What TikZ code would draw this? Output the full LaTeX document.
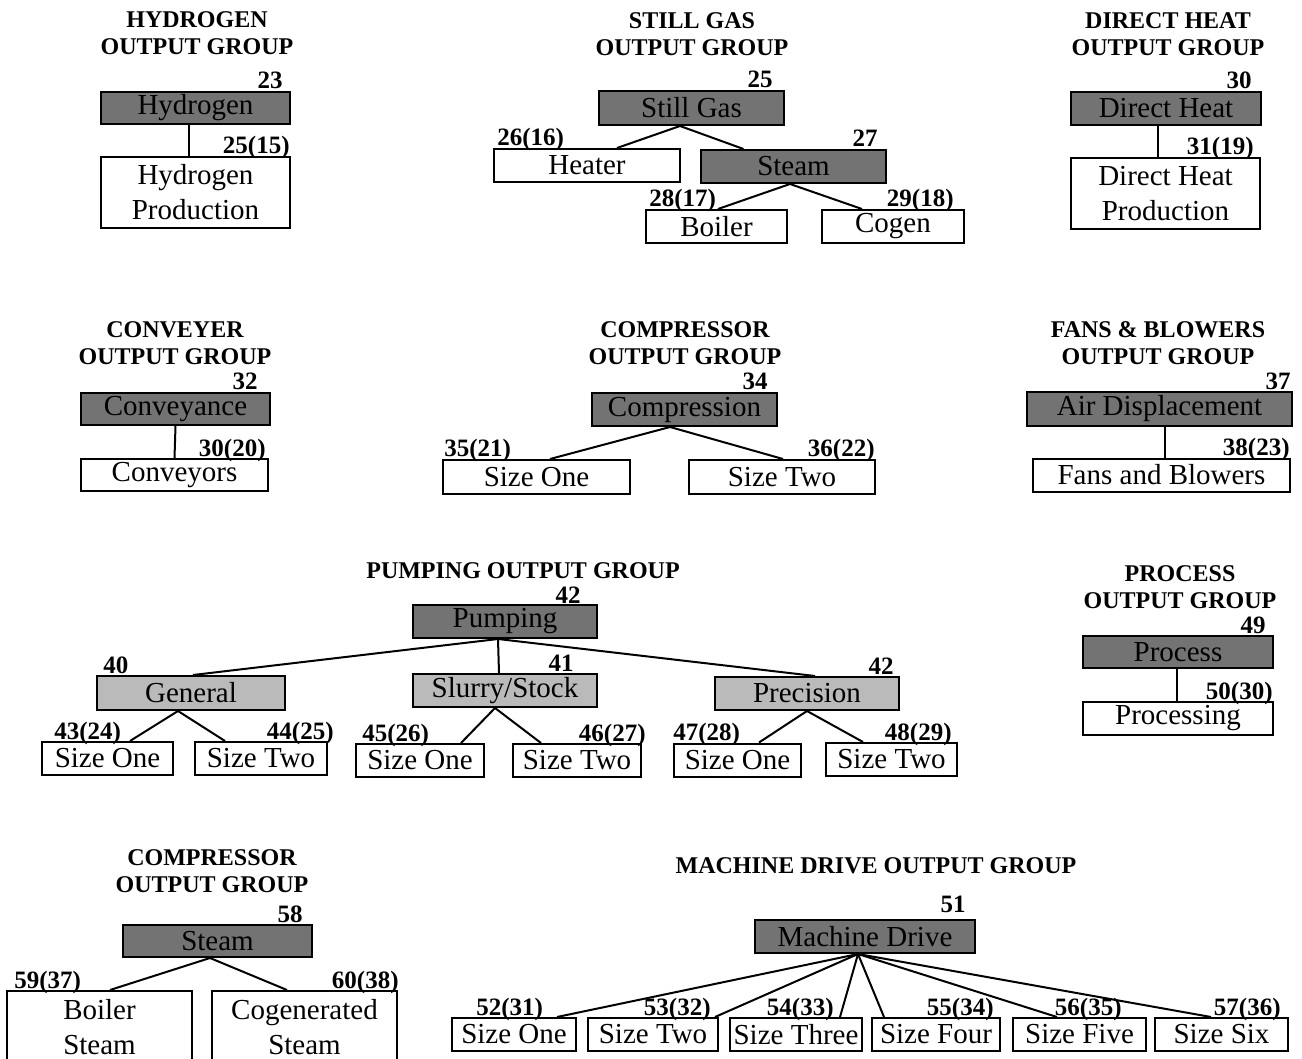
\documentclass[tikz,border=0pt]{standalone}
\usepackage{fontspec}
\setmainfont{Liberation Serif}
\usetikzlibrary{positioning}
\tikzset{
  box/.style={draw, line width=1pt, inner sep=0pt, align=center,
    minimum height=16.5pt, font=\fontsize{14.5}{17.5}\selectfont},
  darkbox/.style={box, fill=black!55},
  lightbox/.style={box, fill=black!27},
  whitebox/.style={box, fill=white},
  num/.style={inner sep=0pt, font=\fontsize{12.5}{14}\selectfont\bfseries},
  numr/.style={num, anchor=base east},
  numl/.style={num, anchor=base west},
  head/.style={inner sep=0pt, align=center, font=\fontsize{12}{13.5}\selectfont\bfseries},
  link/.style={line width=1pt},
}

\begin{document}
\begin{tikzpicture}[x=0.5pt,y=-0.5pt]
  \useasboundingbox (0,0) rectangle (1302,1059);

  % hydrogen
  \node[head] (hyhead) at (197,33.5) {HYDROGEN\\OUTPUT GROUP};
  \node[darkbox, minimum width=94.5pt, minimum height=16pt] (h0) at (195.5,108) {Hydrogen};
  \node[whitebox, minimum width=94.5pt, minimum height=35.5pt] (h1) at (195.5,192.5) {Hydrogen\\Production};
  \draw[link] ([xshift=-3.5pt]h0.south) -- ([xshift=-3.5pt]h1.north);
  \node[numr] (h0n) at ([xshift=-4pt,yshift=1pt]h0.north east) {23};
  \node[numr] (h1n) at ([xshift=-0.5pt,yshift=1pt]h1.north east) {25(15)};

  % still gas
  \node[head] (sghead) at (692,34.5) {STILL GAS\\OUTPUT GROUP};
  \node[darkbox, minimum width=92.5pt, minimum height=17pt] (s0) at (691.5,108) {Still Gas};
  \node[whitebox, minimum width=93pt] (s1) at (587,165.5) {Heater};
  \node[darkbox, minimum width=92.5pt] (s2) at (793.5,166.5) {Steam};
  \node[whitebox, minimum width=70.5pt] (s3) at (716.5,226.5) {Boiler};
  \node[whitebox, minimum width=71pt] (s4) at (893,226.5) {Cogen};
  \draw[link] ([xshift=-5.75pt]s0.south) -- ([xshift=15pt]s1.north);
  \draw[link] ([xshift=-5.75pt]s0.south) -- ([xshift=-25pt]s2.north);
  \draw[link] ([xshift=-1.75pt]s2.south) -- ([xshift=0.75pt]s3.north);
  \draw[link] ([xshift=-1.75pt]s2.south) -- ([xshift=-15.5pt]s4.north);
  \node[numr] (s0n) at ([xshift=-6pt,yshift=1pt]s0.north east) {25};
  \node[numl] (s1n) at ([xshift=2pt,yshift=1pt]s1.north west) {26(16)};
  \node[numr] (s2n) at ([xshift=-4.5pt,yshift=1pt]s2.north east) {27};
  \node[numl] (s3n) at ([xshift=2pt,yshift=1pt]s3.north west) {28(17)};
  \node[numr] (s4n) at ([xshift=-5.5pt,yshift=1pt]s4.north east) {29(18)};

  % direct heat
  \node[head] (dhhead) at (1168,34.5) {DIRECT HEAT\\OUTPUT GROUP};
  \node[darkbox, minimum width=95pt] (d0) at (1166,108.5) {Direct Heat};
  \node[whitebox, minimum width=94.5pt, minimum height=35.5pt] (d1) at (1165.5,193.5) {Direct Heat\\Production};
  \draw[link] ([xshift=-4pt]d0.south) -- ([xshift=-3.75pt]d1.north);
  \node[numr] (d0n) at ([xshift=-5pt,yshift=1pt]d0.north east) {30};
  \node[numr] (d1n) at ([xshift=-3.5pt,yshift=1pt]d1.north east) {31(19)};

  % conveyer
  \node[head] (cvhead) at (175,343) {CONVEYER\\OUTPUT GROUP};
  \node[darkbox, minimum width=94.5pt, minimum height=16pt] (c0) at (175.5,409) {Conveyance};
  \node[whitebox, minimum width=93.5pt, minimum height=16pt] (c1) at (174.5,475) {Conveyors};
  \draw[link] (c0.south) -- (c1.north);
  \node[numr] (c0n) at ([xshift=-6.5pt,yshift=1pt]c0.north east) {32};
  \node[numr] (c1n) at ([xshift=-1.5pt,yshift=1pt]c1.north east) {30(20)};

  % compressor
  \node[head] (cphead) at (685,343) {COMPRESSOR\\OUTPUT GROUP};
  \node[darkbox, minimum width=92.5pt] (p0) at (684.5,409.5) {Compression};
  \node[whitebox, minimum width=93.5pt, minimum height=17pt] (p1) at (536.5,477) {Size One};
  \node[whitebox, minimum width=93pt, minimum height=17pt] (p2) at (782,477) {Size Two};
  \draw[link] ([xshift=-7.25pt]p0.south) -- ([xshift=6.75pt]p1.north);
  \draw[link] ([xshift=-7.25pt]p0.south) -- ([xshift=0.5pt]p2.north);
  \node[numr] (p0n) at ([xshift=-5pt,yshift=1pt]p0.north east) {34};
  \node[numl] (p1n) at ([xshift=1pt,yshift=1pt]p1.north west) {35(21)};
  \node[numr] (p2n) at ([xshift=-0.5pt,yshift=1pt]p2.north east) {36(22)};

  % fans and blowers
  \node[head] (fbhead) at (1158,343) {FANS \& BLOWERS\\OUTPUT GROUP};
  \node[darkbox, minimum width=132.5pt] (f0) at (1159.5,409) {Air Displacement};
  \node[whitebox, minimum width=128.5pt] (f1) at (1161.5,475) {Fans and Blowers};
  \draw[link] ([xshift=2.75pt]f0.south) -- ([xshift=1.75pt]f1.north);
  \node[numr] (f0n) at ([xshift=-1pt,yshift=1pt]f0.north east) {37};
  \node[numr] (f1n) at ([xshift=-0.5pt,yshift=1pt]f1.north east) {38(23)};

  % pumping
  \node[head] (puhead) at (523,571) {PUMPING OUTPUT GROUP};
  \node[darkbox, minimum width=92pt] (q0) at (505,621.5) {Pumping};
  \node[lightbox, minimum width=94pt, minimum height=17pt] (q1) at (191,693) {General};
  \node[lightbox, minimum width=92pt] (q2) at (505,690.5) {Slurry/Stock};
  \node[lightbox, minimum width=92pt] (q3) at (807,693.5) {Precision};
  \node[whitebox, minimum width=65.5pt] (q4) at (107.5,758.5) {Size One};
  \node[whitebox, minimum width=66pt] (q5) at (261,758.5) {Size Two};
  \node[whitebox, minimum width=64pt] (q6) at (420,760.5) {Size One};
  \node[whitebox, minimum width=64pt] (q7) at (577,760.5) {Size Two};
  \node[whitebox, minimum width=63.5pt] (q8) at (737.5,760) {Size One};
  \node[whitebox, minimum width=65.5pt] (q9) at (891.5,759.5) {Size Two};
  \draw[link] ([xshift=-3.5pt]q0.south) -- ([xshift=1pt]q1.north);
  \draw[link] ([xshift=-3.5pt]q0.south) -- ([xshift=-3pt]q2.north);
  \draw[link] ([xshift=-3.5pt]q0.south) -- ([xshift=4pt]q3.north);
  \draw[link] ([xshift=-6.5pt]q1.south) -- ([xshift=11.25pt]q4.north);
  \draw[link] ([xshift=-6.5pt]q1.south) -- ([xshift=-18pt]q5.north);
  \draw[link] ([xshift=-5pt]q2.south) -- ([xshift=20.5pt]q6.north);
  \draw[link] ([xshift=-5pt]q2.south) -- ([xshift=-18pt]q7.north);
  \draw[link] (q3.south) -- ([xshift=10.75pt]q8.north);
  \draw[link] (q3.south) -- ([xshift=-14.25pt]q9.north);
  \node[numr] (q0n) at ([xshift=-8.5pt,yshift=0.5pt]q0.north east) {42};
  \node[numl] (q1n) at ([xshift=3.5pt,yshift=1pt]q1.north west) {40};
  \node[numr] (q2n) at ([xshift=-12pt,yshift=1pt]q2.north east) {41};
  \node[numr] (q3n) at ([xshift=-3pt,yshift=1pt]q3.north east) {42};
  \node[numl] (q4n) at ([xshift=6.5pt,yshift=1pt]q4.north west) {43(24)};
  \node[numr] (q5n) at ([xshift=3pt,yshift=1pt]q5.north east) {44(25)};
  \node[numl] (q6n) at ([xshift=3.5pt,yshift=1pt]q6.north west) {45(26)};
  \node[numr] (q7n) at ([xshift=2pt,yshift=1pt]q7.north east) {46(27)};
  \node[numl] (q8n) at ([xshift=0pt,yshift=1pt]q8.north west) {47(28)};
  \node[numr] (q9n) at ([xshift=-3pt,yshift=1pt]q9.north east) {48(29)};

  % process
  \node[head] (prhead) at (1180,587) {PROCESS\\OUTPUT GROUP};
  \node[darkbox, minimum width=95pt, minimum height=16pt] (r0) at (1178,652) {Process};
  \node[whitebox, minimum width=95pt] (r1) at (1178,718.5) {Processing};
  \draw[link] ([xshift=-0.5pt]r0.south) -- ([xshift=-0.5pt]r1.north);
  \node[numr] (r0n) at ([xshift=-4pt,yshift=1pt]r0.north east) {49};
  \node[numr] (r1n) at ([xshift=-0.5pt,yshift=1pt]r1.north east) {50(30)};

  % compressor (steam)
  \node[head] (sthead) at (212,871) {COMPRESSOR\\OUTPUT GROUP};
  \node[darkbox, minimum width=94.5pt, minimum height=16pt] (t0) at (217.5,941) {Steam};
  \node[whitebox, minimum width=92.5pt, minimum height=36pt] (t1) at (99.5,1027) {Boiler\\Steam};
  \node[whitebox, minimum width=92.5pt, minimum height=36pt] (t2) at (304.5,1027) {Cogenerated\\Steam};
  \draw[link] ([xshift=-3.75pt]t0.south) -- ([xshift=5.25pt]t1.north);
  \draw[link] ([xshift=-3.75pt]t0.south) -- ([xshift=-8.75pt]t2.north);
  \node[numr] (t0n) at ([xshift=-5pt,yshift=1pt]t0.north east) {58};
  \node[numl] (t1n) at ([xshift=4pt,yshift=1pt]t1.north west) {59(37)};
  \node[numr] (t2n) at ([xshift=0.5pt,yshift=1pt]t2.north east) {60(38)};

  % machine drive
  \node[head] (mdhead) at (876,866) {MACHINE DRIVE OUTPUT GROUP};
  \node[darkbox, minimum width=110pt] (m0) at (865,936.5) {Machine Drive};
  \node[numr] (m0n) at ([xshift=-5pt,yshift=3.5pt]m0.north east) {51};
  \foreach \i/\x/\w/\s/\e in {1/514/62/One/21.5, 2/653/65/Two/31, 3/796/66/Three/22,
      4/936/64/Four/-26, 5/1079.5/66.5/Five/-11.25, 6/1221.5/66.5/Six/-5.25}{
    \node[whitebox, minimum width=\w pt] (m\i) at (\x,1034.5) {Size \s};
    \draw[link] ([xshift=-3.5pt]m0.south) -- ([xshift=\e pt]m\i.north);
  }
  \node[numl] (m1n) at ([xshift=12.5pt,yshift=1pt]m1.north west) {52(31)};
  \node[numr] (m2n) at ([xshift=-4pt,yshift=1pt]m2.north east) {53(32)};
  \node[numr] (m3n) at ([xshift=-14.5pt,yshift=1pt]m3.north east) {54(33)};
  \node[numr] (m4n) at ([xshift=-3.5pt,yshift=1pt]m4.north east) {55(34)};
  \node[numr] (m5n) at ([xshift=-12.5pt,yshift=1pt]m5.north east) {56(35)};
  \node[numr] (m6n) at ([xshift=-4pt,yshift=1pt]m6.north east) {57(36)};
\end{tikzpicture}
\end{document}
